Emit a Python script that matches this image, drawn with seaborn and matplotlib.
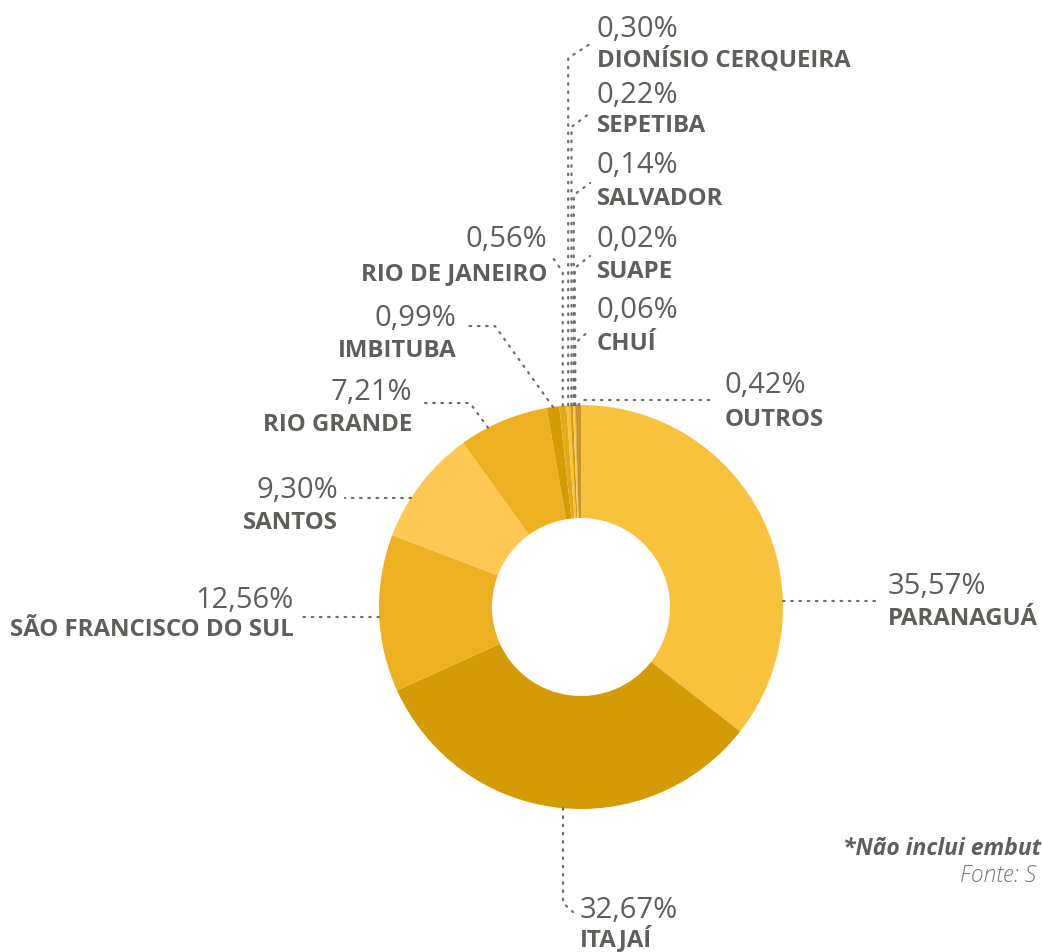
import numpy as np
import matplotlib
matplotlib.use("Agg")
import matplotlib.pyplot as plt
import seaborn as sns

# Dados: participação por porto (%)
ports = ["PARANAGUÁ", "ITAJAÍ", "SÃO FRANCISCO DO SUL", "SANTOS", "RIO GRANDE",
         "IMBITUBA", "RIO DE JANEIRO", "DIONÍSIO CERQUEIRA", "SEPETIBA",
         "SALVADOR", "SUAPE", "CHUÍ", "OUTROS"]
shares = [35.57, 32.67, 12.56, 9.30, 7.21, 0.99, 0.56, 0.30, 0.22, 0.14, 0.02, 0.06, 0.42]
slice_colors = ["#F9C23C", "#D49B04", "#EDB020", "#FEC853", "#EDB020",
                "#D49B04", "#E6A918", "#F9C23C", "#D49B04", "#FEC853",
                "#EDB020", "#D49B04", "#C9952A"]
# textos de rodapé (cortados na borda, como no original)
footnote = "*Não inclui embut"
source = "Fonte: S"

# Layout (pixels, origem no topo)
W, H = 1043, 952
CX, CY = 581, 607
R, R_IN = 202, 89
TXT = "#5f5e5a"
LINE = "#6f6e68"

# posição dos rótulos: x, baseline do %, baseline do nome, alinhamento
label_pos = {
    "PARANAGUÁ": (888, 594, 625, "left"),
    "ITAJAÍ": (580, 918, 946, "left"),
    "SÃO FRANCISCO DO SUL": (294, 608, 636, "right"),
    "SANTOS": (338, 498, 529, "right"),
    "RIO GRANDE": (412, 400, 431, "right"),
    "IMBITUBA": (456, 326, 357, "right"),
    "RIO DE JANEIRO": (547, 247, 280, "right"),
    "DIONÍSIO CERQUEIRA": (597, 37, 67, "left"),
    "SEPETIBA": (597, 103, 132, "left"),
    "SALVADOR": (597, 173, 205, "left"),
    "SUAPE": (597, 247, 278, "left"),
    "CHUÍ": (597, 318, 350, "left"),
    "OUTROS": (725, 393, 426, "left"),
}

# linhas de chamada: início no anel + pontos intermediários (None = mesmo x)
leaders = {
    "PARANAGUÁ": (("y", 601, 1), [(880, 601)]),
    "ITAJAÍ": (("x", 563, 1), [(None, 903), (573, 912)]),
    "SÃO FRANCISCO DO SUL": (("y", 617, -1), [(300, 617)]),
    "SANTOS": (("y", 498, -1), [(345, 498)]),
    "RIO GRANDE": (("x", 488, -1), [(470, 403), (420, 403)]),
    "IMBITUBA": (("x", 553, -1), [(495, 326), (467, 326)]),
    "RIO DE JANEIRO": (("mid",), [(None, 272), (553, 258)]),
    "DIONÍSIO CERQUEIRA": (("mid",), [(None, 58), (590, 44)]),
    "SEPETIBA": (("mid",), [(None, 127), (590, 113)]),
    "SALVADOR": (("mid",), [(None, 195), (590, 183)]),
    "SUAPE": (("mid",), [(None, 268), (590, 256)]),
    "CHUÍ": (("mid",), [(None, 343), (590, 330)]),
    "OUTROS": (("mid",), [(583, 400), (715, 400)]),
}

sns.set_theme(style="white")
plt.rcParams["font.family"] = ["Open Sans", "DejaVu Sans"]


def fy(y):
    return H - y


fig = plt.figure(figsize=(W / 100, H / 100), dpi=100)
ax = fig.add_axes([0, 0, 1, 1])

vals = np.array(shares)
ax.pie(vals, colors=sns.color_palette(slice_colors), startangle=90, counterclock=False,
       radius=R, center=(CX, fy(CY)),
       wedgeprops=dict(width=R - R_IN, linewidth=0.6, edgecolor="none", antialiased=True))
ax.set_xlim(0, W)
ax.set_ylim(0, H)
ax.set_aspect("equal")
ax.axis("off")

# ângulo médio de cada fatia (horário a partir do topo)
frac = vals / vals.sum()
mid = 360 * (np.cumsum(frac) - frac / 2)

for i, name in enumerate(ports):
    start, pts = leaders[name]
    if start[0] == "mid":
        t = np.radians(mid[i])
        x0, y0 = CX + R * np.sin(t), CY - R * np.cos(t)
    elif start[0] == "y":
        y0 = start[1]
        x0 = CX + start[2] * np.sqrt(R ** 2 - (y0 - CY) ** 2)
    else:
        x0 = start[1]
        y0 = CY + start[2] * np.sqrt(R ** 2 - (x0 - CX) ** 2)
    xs, ys = [x0], [y0]
    for px, py in pts:
        xs.append(x0 if px is None else px)
        ys.append(py)
    ax.plot(xs, [fy(v) for v in ys], color=LINE, lw=1.6,
            linestyle=(0, (0.7, 3.0)), dash_capstyle="round", zorder=1)

    lx, yb_pct, yb_name, ha = label_pos[name]
    pct = f"{shares[i]:.2f}".replace(".", ",") + "%"
    ax.text(lx, fy(yb_pct), pct, ha=ha, va="baseline", fontsize=21,
            color=TXT, fontweight="normal")
    ax.text(lx, fy(yb_name), name, ha=ha, va="baseline", fontsize=17.3,
            color=TXT, fontweight="bold")

ax.text(843, fy(855), footnote, ha="left", va="baseline", fontsize=16.5,
        color=TXT, fontweight="bold", fontstyle="italic")
ax.text(960, fy(882), source, ha="left", va="baseline", fontsize=16.5,
        color="#77766f", fontweight="light", fontstyle="italic")

fig.savefig("out.png", dpi=100)
